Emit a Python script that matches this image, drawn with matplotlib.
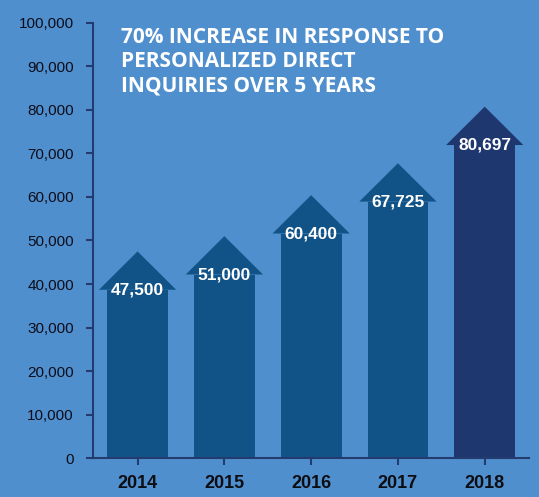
import matplotlib
matplotlib.use('Agg')
from matplotlib import pyplot as plt
from matplotlib.patches import Polygon

years = ['2014', '2015', '2016', '2017', '2018']
values = [47500, 51000, 60400, 67725, 80697]
labels = ['47,500', '51,000', '60,400', '67,725', '80,697']
yticks = [0, 10000, 20000, 30000, 40000, 50000, 60000, 70000, 80000, 90000, 100000]
title = '70% INCREASE IN RESPONSE TO\nPERSONALIZED DIRECT\nINQUIRIES OVER 5 YEARS'

bg = '#508fcd'
bar_color = '#125387'
last_color = '#1f376f'
axis_color = '#223c70'
sans = ['Liberation Sans', 'DejaVu Sans']

fig = plt.figure(figsize=(5.39, 4.97), dpi=100, facecolor=bg)
ax = fig.add_axes([0.1731, 0.0775, 0.8083, 0.8772])
ax.set_facecolor(bg)

x = list(range(len(values)))
width = 0.70
head_w = 0.89
head_h = 8800
colors = [bar_color] * (len(values) - 1) + [last_color]

ax.bar(x, [v - head_h for v in values], width=width, color=colors, zorder=2)
for xi, v, c, lab in zip(x, values, colors, labels):
    head = Polygon([(xi - head_w / 2, v - head_h), (xi + head_w / 2, v - head_h), (xi, v)],
                   closed=True, facecolor=c, edgecolor='none', zorder=2)
    ax.add_patch(head)
    ax.text(xi, v - head_h, lab, ha='center', va='center', color='white',
            fontsize=12.5, fontweight='bold', family=sans, zorder=3)

ax.set_xlim(-0.51, 4.51)
ax.set_ylim(0, 100000)
ax.set_xticks(x)
ax.set_xticklabels(years, fontsize=13, fontweight='bold', family=sans, color='#0d0d14')
ax.set_yticks(yticks)
ax.set_yticklabels([f'{t:,}' for t in yticks], fontsize=11, family=sans, color='#0d0d1a')

for s in ['top', 'right']:
    ax.spines[s].set_visible(False)
for s in ['left', 'bottom']:
    ax.spines[s].set_color(axis_color)
    ax.spines[s].set_linewidth(1.5)
ax.tick_params(axis='both', color=axis_color, width=1.5, length=5)
ax.tick_params(axis='y', pad=9)
ax.tick_params(axis='x', pad=7)

fig.text(0.224, 0.946, title, ha='left', va='top', color='white', fontsize=15,
         fontweight='bold', family=['Open Sans', 'DejaVu Sans'], linespacing=1.22)

fig.savefig('out.png', dpi=100, facecolor=bg)
